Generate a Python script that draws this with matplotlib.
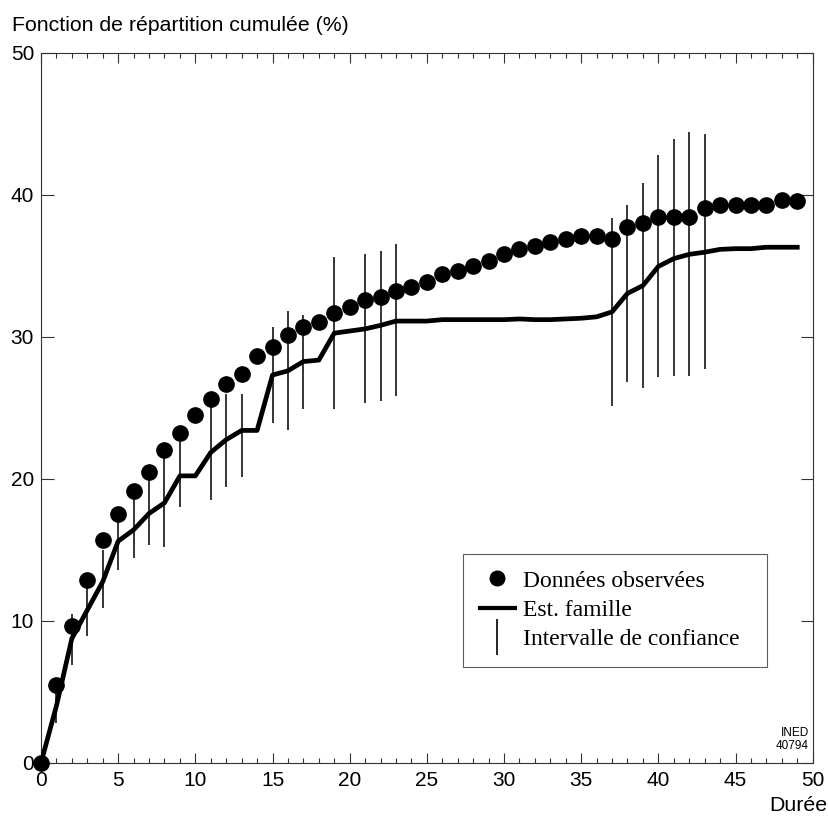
import matplotlib
matplotlib.use("Agg")
import matplotlib.pyplot as plt
from matplotlib.lines import Line2D
from matplotlib.ticker import MultipleLocator

# Durée (années)
duree = list(range(0, 50))

# Fonction de répartition observée (%)
observe = [0.0, 5.5, 9.65, 12.85, 15.7, 17.5, 19.1, 20.5, 22.0, 23.25,
           24.5, 25.6, 26.65, 27.35, 28.65, 29.3, 30.15, 30.65, 31.05, 31.7,
           32.1, 32.6, 32.8, 33.2, 33.5, 33.85, 34.4, 34.65, 34.95, 35.35,
           35.8, 36.2, 36.4, 36.65, 36.85, 37.1, 37.1, 36.9, 37.7, 38.0,
           38.4, 38.4, 38.4, 39.05, 39.3, 39.25, 39.25, 39.25, 39.6, 39.55]

# Estimation famille (%)
estime = [0.0, 4.0, 8.75, 10.75, 12.75, 15.6, 16.4, 17.55, 18.3, 20.2,
          20.2, 21.85, 22.75, 23.4, 23.4, 27.3, 27.6, 28.25, 28.35, 30.25,
          30.4, 30.55, 30.8, 31.1, 31.1, 31.1, 31.2, 31.2, 31.2, 31.2,
          31.2, 31.25, 31.2, 31.2, 31.25, 31.3, 31.4, 31.75, 33.05, 33.6,
          34.95, 35.5, 35.8, 35.95, 36.15, 36.2, 36.2, 36.3, 36.3, 36.3]

# Intervalles de confiance (%)
ic_duree = [1, 2, 3, 4, 5, 6, 7, 8, 9, 11, 12, 13, 15, 16, 17, 19, 21, 22, 23,
            37, 38, 39, 40, 41, 42, 43]
ic_bas = [2.8, 6.9, 8.9, 10.9, 13.6, 14.4, 15.3, 15.2, 18.0, 18.5, 19.45, 20.15,
          23.9, 23.4, 24.9, 24.9, 25.3, 25.5, 25.8,
          25.1, 26.8, 26.4, 27.15, 27.2, 27.2, 27.7]
ic_haut = [5.1, 10.5, 12.4, 15.0, 17.0, 18.6, 19.9, 21.5, 22.55, 25.3, 26.0, 26.0,
           30.7, 31.8, 31.55, 35.6, 35.8, 36.05, 36.5,
           38.35, 39.3, 40.8, 42.8, 43.9, 44.4, 44.3]

x_ticks = [0, 5, 10, 15, 20, 25, 30, 35, 40, 45, 50]
y_ticks = [0, 10, 20, 30, 40, 50]

sans = ["Liberation Sans", "DejaVu Sans"]
serif = ["Liberation Serif", "DejaVu Serif"]
narrow = ["Liberation Sans Narrow", "Liberation Sans", "DejaVu Sans"]

fig = plt.figure(figsize=(8.29, 8.16), dpi=100)
ax = fig.add_axes([41 / 829, 1 - 762.7 / 816, 771.7 / 829, 710 / 816])

ax.vlines(ic_duree, ic_bas, ic_haut, colors="black", linewidth=1.1, zorder=2)
ax.plot(duree, estime, color="black", linewidth=3.4, solid_joinstyle="round",
        zorder=3)
ax.plot(duree, observe, linestyle="none", marker="o", markersize=11,
        color="black", clip_on=False, zorder=4)

ax.set_xlim(0, 50)
ax.set_ylim(0, 50)
ax.set_xticks(x_ticks)
ax.set_yticks(y_ticks)
ax.xaxis.set_minor_locator(MultipleLocator(1))

for s in ax.spines.values():
    s.set_linewidth(0.8)
    s.set_color("#333333")

ax.tick_params(axis="x", which="major", direction="in", length=7.5, width=0.8,
               top=True, bottom=True, pad=6, labelsize=15, colors="#333333",
               labelcolor="black")
ax.tick_params(axis="x", which="minor", direction="in", length=3.5, width=0.8,
               top=True, bottom=True, colors="#333333")
ax.tick_params(axis="y", which="major", direction="in", length=9, width=0.8,
               left=True, right=True, pad=5, labelsize=15, colors="#333333",
               labelcolor="black")
for lab in ax.get_xticklabels() + ax.get_yticklabels():
    lab.set_family(sans)

fig.text(12 / 829, 1 - 31 / 816, "Fonction de répartition cumulée (%)",
         family=sans, fontsize=15.3, ha="left", va="baseline")
fig.text(827 / 829, 1 - 811 / 816, "Durée", family=sans, fontsize=15.3,
         ha="right", va="baseline")
ax.text(0.995, 0.015, "INED\n40794", transform=ax.transAxes, ha="right",
        va="bottom", fontsize=8.5, linespacing=1.1, family=narrow)

handles = [
    Line2D([], [], linestyle="none", marker="o", markersize=10.5, color="black"),
    Line2D([], [], color="black", linewidth=3),
    Line2D([], [], linestyle="none", marker="|", markersize=26,
           markeredgewidth=1.2, color="black"),
]
labels = ["Données observées", "Est. famille", "Intervalle de confiance"]
leg = ax.legend(handles, labels, loc="lower left",
                bbox_to_anchor=(0.547, 0.135, 0.394, 0.16), mode="expand",
                prop={"family": serif, "size": 17}, frameon=True,
                fancybox=False, edgecolor="#333333", handlelength=1.5,
                handletextpad=0.35, labelspacing=0.33, borderpad=0.7,
                borderaxespad=0)
leg.get_frame().set_linewidth(0.8)

fig.savefig("out.png", dpi=100)
